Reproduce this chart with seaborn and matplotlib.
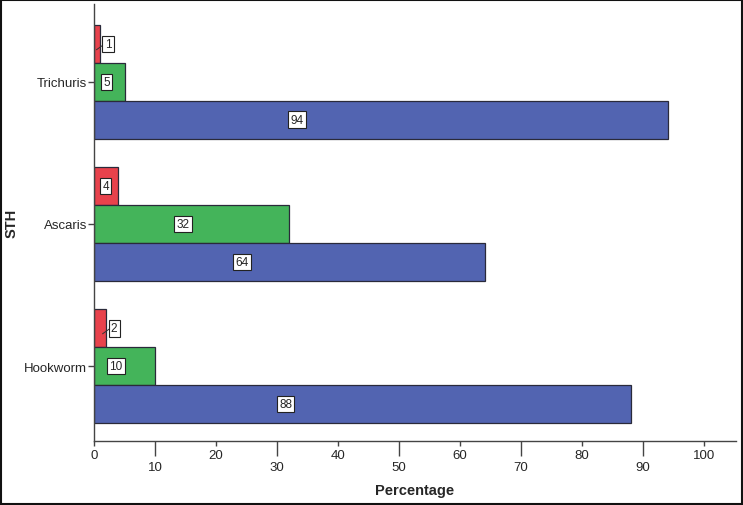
import matplotlib
matplotlib.use("Agg")
import matplotlib.pyplot as plt
import matplotlib.transforms as mtransforms
import seaborn as sns
import pandas as pd
from matplotlib.patches import Rectangle

categories = ["Trichuris", "Ascaris", "Hookworm"]
series_names = ["Heavy", "Moderate", "Light"]
heavy = [1, 4, 2]
moderate = [5, 32, 10]
light = [94, 64, 88]
xticks_even = [0, 20, 40, 60, 80, 100]
xticks_odd = [10, 30, 50, 70, 90]

rows = []
for name, vals in zip(series_names, [heavy, moderate, light]):
    for c, v in zip(categories, vals):
        rows.append({"STH": c, "Group": name, "Percentage": v})
df = pd.DataFrame(rows)

sns.set_style("white")
plt.rcParams["font.family"] = ["Liberation Sans", "DejaVu Sans"]

colors = ["#E8424C", "#44B45A", "#5264B1"]

fig = plt.figure(figsize=(7.43, 5.06), dpi=100)
ax = fig.add_axes([94 / 743, 1 - 442 / 506, (736 - 94) / 743, (442 - 5) / 506])

sns.barplot(data=df, y="STH", x="Percentage", hue="Group", order=categories,
            hue_order=series_names, palette=colors, orient="h", width=0.8,
            edgecolor="#2a2a3a", linewidth=0.9, legend=False, ax=ax, saturation=1)

# value labels
for container in ax.containers:
    for bar in container:
        v = bar.get_width()
        yc = bar.get_y() + bar.get_height() / 2
        if v < 3:
            xp = v + 1.3
            ax.plot([v - 0.6, xp - 0.6], [yc + 0.04, yc], color="#333333", lw=0.7)
        else:
            xp = max(0.3 * v + 5 if v >= 30 else 0.3 * v + 0.6, 1.9)
        ax.text(xp, yc, f"{int(v)}", ha="center", va="center", fontsize=8.5,
                bbox=dict(boxstyle="square,pad=0.2", fc="white", ec="#222222", lw=0.8))

ax.set_xlim(0, 105.2)
ax.set_ylim(2.528, -0.549)

for s in ["top", "right"]:
    ax.spines[s].set_visible(False)
for s in ["left", "bottom"]:
    ax.spines[s].set_color("#444444")
    ax.spines[s].set_linewidth(1.0)

ax.set_xlabel("Percentage", fontsize=10.5, fontweight="bold")
ax.xaxis.set_label_coords(0.5, -0.095)
ax.set_ylabel("STH", fontsize=10.5, fontweight="bold")
ax.yaxis.set_label_coords(-0.118, 0.5)

ax.tick_params(axis="y", length=4, width=1, color="#444444", pad=1,
               labelsize=9.5, left=True)

# all ticks at every 10; odd ones get long marks and lowered labels
all_ticks = sorted(xticks_even + xticks_odd)
ax.set_xticks(all_ticks)
ax.set_xticklabels([str(t) for t in all_ticks])
ax.tick_params(axis="x", which="major", length=3.6, width=1, color="#444444",
               labelsize=9.5, direction="out", bottom=True, pad=2.5)
fig.canvas.draw()
shift = mtransforms.ScaledTranslation(0, -12 / 100, fig.dpi_scale_trans)
for tick in ax.xaxis.get_major_ticks():
    if tick.get_loc() in xticks_odd:
        tick.tick1line.set_markersize(10.8)
        tick.label1.set_transform(tick.label1.get_transform() + shift)

fig.patches.append(Rectangle((0.001, 0.001), 0.998, 0.997, transform=fig.transFigure,
                             fill=False, ec="#111111", lw=1.5))

fig.savefig("out.png", dpi=100)
